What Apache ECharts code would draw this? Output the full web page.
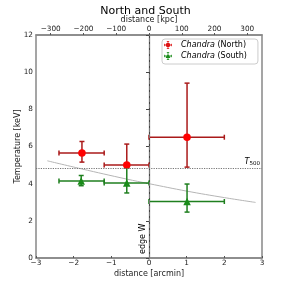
<!DOCTYPE html>
<html><head><meta charset="utf-8">
<script src="https://cdn.jsdelivr.net/npm/echarts@6/dist/echarts.min.js"></script>
<style>html,body{margin:0;padding:0;background:#fff}#c{width:291px;height:291px}</style>
</head><body><div id="c"></div>
<script>
// ---- data ----
const xTicks = [-3, -2, -1, 0, 1, 2, 3];
const kpcPerArcmin = 115;
const northX   = [-1.78, -0.59, 1.01];
const northY   = [5.65, 5.00, 6.50];
const northXLo = [-2.39, -1.19, 0.00];
const northXHi = [-1.19, 0.00, 2.00];
const northYLo = [5.16, 4.85, 4.89];
const northYHi = [6.27, 6.13, 9.41];
const southX   = [-1.80, -0.59, 1.01];
const southY   = [4.15, 4.03, 3.04];
const southXLo = [-2.39, -1.19, 0.00];
const southXHi = [-1.19, 0.00, 2.00];
const southYLo = [3.89, 3.50, 2.47];
const southYHi = [4.44, 4.84, 3.98];
const modelX = [-2.70, -1.80, -0.60, 0.00, 1.00, 2.00, 2.83];
const modelY = [5.23, 4.80, 4.25, 4.00, 3.60, 3.25, 2.99];
const T500 = 4.84;
const edgeX = 0;

const FONT = 'DejaVu Sans';
const minus = v => String(v).replace('-', '\u2212');

function errData(x, y, xlo, xhi, ylo, yhi) {
  return x.map((v, i) => [v, y[i], xlo[i], xhi[i], ylo[i], yhi[i]]);
}
function errRender(color) {
  return function (params, api) {
    const p = api.coord([api.value(0), api.value(1)]);
    const l = api.coord([api.value(2), api.value(1)]);
    const r = api.coord([api.value(3), api.value(1)]);
    const b = api.coord([api.value(0), api.value(4)]);
    const t = api.coord([api.value(0), api.value(5)]);
    const c = 2.5;
    const st = { stroke: color, lineWidth: 1.5 };
    const ln = (x1, y1, x2, y2) => ({ type: 'line', shape: { x1, y1, x2, y2 }, style: st });
    return { type: 'group', children: [
      ln(l[0], p[1], r[0], p[1]),
      ln(p[0], b[1], p[0], t[1]),
      ln(l[0], p[1] - c, l[0], p[1] + c),
      ln(r[0], p[1] - c, r[0], p[1] + c),
      ln(p[0] - c, b[1], p[0] + c, b[1]),
      ln(p[0] - c, t[1], p[0] + c, t[1])
    ]};
  };
}
// legend icons: marker with error-bar cross
const crossPath = 'M0,4.5 L10,4.5 L10,5.5 L0,5.5 Z M4.5,0 L5.5,0 L5.5,10 L4.5,10 Z ' +
  'M0,3.5 L0.8,3.5 L0.8,6.5 L0,6.5 Z M9.2,3.5 L10,3.5 L10,6.5 L9.2,6.5 Z ' +
  'M3.5,0 L6.5,0 L6.5,0.8 L3.5,0.8 Z M3.5,9.2 L6.5,9.2 L6.5,10 L3.5,10 Z ';
const iconNorth = 'path://' + crossPath + 'M5,2.2 A2.8,2.8 0 1,1 4.99,2.2 Z';
const iconSouth = 'path://' + crossPath + 'M5,2 L8,7.6 L2,7.6 Z';

const chart = echarts.init(document.getElementById('c'), null, { renderer: 'canvas' });
chart.setOption({
  animation: false,
  textStyle: { fontFamily: FONT },
  title: { text: 'North and South', left: 'center', top: 1,
    textStyle: { fontFamily: FONT, fontSize: 11, fontWeight: 'normal', color: '#000' } },
  legend: {
    left: 162, top: 39, orient: 'vertical',
    padding: [1, 11, 3, 2], itemGap: 1, itemWidth: 16, itemHeight: 8,
    borderColor: '#ccc', borderWidth: 1, borderRadius: 3, backgroundColor: '#fff',
    data: [{ name: 'Chandra (North)', icon: iconNorth, itemStyle: { color: '#dd1111' } },
           { name: 'Chandra (South)', icon: iconSouth, itemStyle: { color: '#1a8c1a' } }],
    formatter: n => '{i|Chandra} ' + n.replace('Chandra ', ''),
    textStyle: { fontFamily: FONT, fontSize: 8, color: '#000', lineHeight: 10,
      rich: { i: { fontStyle: 'italic', fontFamily: FONT, fontSize: 8 } } }
  },
  grid: { left: 36, right: 29, top: 35, bottom: 33, show: true, borderColor: '#888', borderWidth: 1.5, backgroundColor: 'transparent' },
  xAxis: [{
    type: 'value', min: xTicks[0], max: xTicks[xTicks.length - 1], interval: 1,
    name: 'distance [arcmin]', nameLocation: 'middle', nameGap: 12, nameMoveOverlap: false,
    nameTextStyle: { fontFamily: FONT, fontSize: 8, color: '#222' },
    axisLine: { show: true, onZero: false, lineStyle: { color: '#888', width: 1.5 } },
    axisTick: { show: true, inside: true, length: 2, lineStyle: { color: '#555' } },
    axisLabel: { fontFamily: FONT, fontSize: 7.3, color: '#222', margin: 2, formatter: minus },
    splitLine: { show: false }
  }, {
    type: 'value', position: 'top',
    min: xTicks[0] * kpcPerArcmin, max: xTicks[xTicks.length - 1] * kpcPerArcmin, splitNumber: 7,
    name: 'distance [kpc]', nameLocation: 'middle', nameGap: 11, nameMoveOverlap: false,
    nameTextStyle: { fontFamily: FONT, fontSize: 8, color: '#222' },
    axisLine: { show: true, onZero: false, lineStyle: { color: '#888', width: 1.5 } },
    axisTick: { show: true, length: 2, lineStyle: { color: '#555' } },
    axisLabel: { fontFamily: FONT, fontSize: 7.3, color: '#222', margin: 2, showMinLabel: false, showMaxLabel: false,
      formatter: v => (v % 100 === 0 ? minus(v) : '') },
    splitLine: { show: false }
  }],
  yAxis: {
    type: 'value', min: 0, max: 12, interval: 2,
    name: 'Temperature [keV]', nameLocation: 'middle', nameGap: 14, nameMoveOverlap: false,
    nameTextStyle: { fontFamily: FONT, fontSize: 8, color: '#222' },
    axisLine: { show: true, lineStyle: { color: '#444', width: 1.2 } },
    axisTick: { show: true, length: 3, lineStyle: { color: '#444' } },
    axisLabel: { fontFamily: FONT, fontSize: 7.3, color: '#222', margin: 3 },
    splitLine: { show: false }
  },
  series: [
    { type: 'line', data: modelX.map((v, i) => [v, modelY[i]]), smooth: 0.4, symbol: 'none',
      lineStyle: { color: '#b5b5b5', width: 1 }, silent: true, z: 1,
      markLine: { symbol: 'none', silent: true,
        data: [
          [{ coord: [xTicks[0], T500] }, { coord: [xTicks[xTicks.length - 1], T500],
            label: { show: true, position: 'insideEndTop', distance: [2, 1],
              formatter: '{i|T}{s|500}',
              rich: { i: { fontStyle: 'italic', fontSize: 8, fontFamily: FONT, color: '#000' },
                      s: { fontSize: 5.5, fontFamily: FONT, color: '#000', padding: [5, 0, 0, 0] } } },
            lineStyle: { color: '#777', type: 'dotted', width: 1.2 } }],
          [{ coord: [edgeX, 0] }, { coord: [edgeX, 12],
            label: { show: true, position: 'insideStartTop', distance: [4, 2], formatter: 'edge W',
              fontFamily: FONT, fontSize: 8, color: '#000' },
            lineStyle: { color: '#777', type: 'dashed', width: 1 } }]
        ] } },
    { type: 'custom', name: 'errN', data: errData(northX, northY, northXLo, northXHi, northYLo, northYHi),
      renderItem: errRender('#aa1a1a'), z: 3, silent: true },
    { type: 'custom', name: 'errS', data: errData(southX, southY, southXLo, southXHi, southYLo, southYHi),
      renderItem: errRender('#1f7f1f'), z: 3, silent: true },
    { type: 'scatter', name: 'Chandra (North)', data: northX.map((v, i) => [v, northY[i]]),
      symbol: 'circle', symbolSize: 7.5, itemStyle: { color: '#ff0000', opacity: 1 }, z: 4 },
    { type: 'scatter', name: 'Chandra (South)', data: southX.map((v, i) => [v, southY[i]]),
      symbol: 'triangle', symbolSize: 7.5, itemStyle: { color: '#1a8c1a', opacity: 1 }, z: 4 }
  ]
});
</script></body></html>
